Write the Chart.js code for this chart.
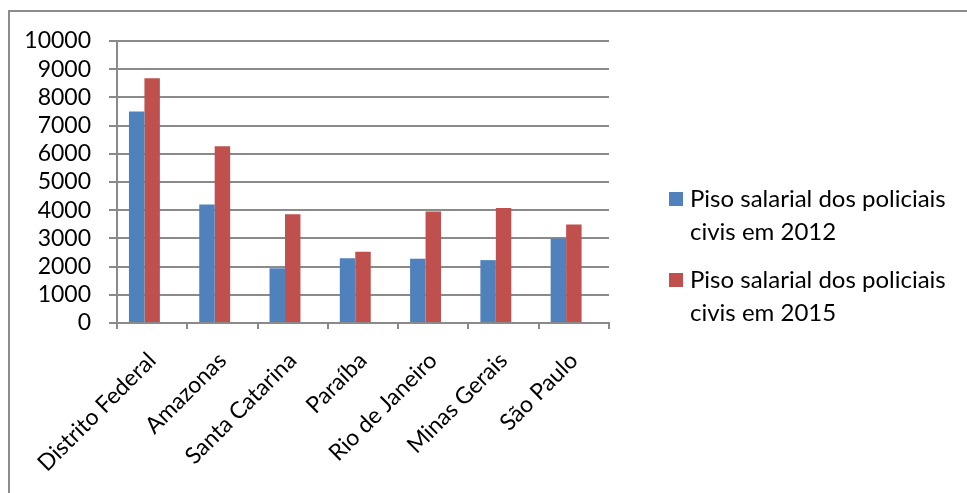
<!DOCTYPE html>
<html>
<head>
<meta charset="utf-8">
<script src="https://cdn.jsdelivr.net/npm/chart.js@4.4.1/dist/chart.umd.min.js"></script>
<style>
  html, body { margin: 0; padding: 0; background: #fff; overflow: hidden; }
  #wrap { position: relative; width: 967px; height: 493px; }
  #frame {
    position: absolute; left: 8px; top: 10px; width: 1100px; height: 700px;
    border-left: 2px solid #8c8c8c; border-top: 2px solid #8c8c8c;
  }
  canvas { position: absolute; left: 0; top: 0; }
</style>
</head>
<body>
<div id="wrap">
  <div id="frame"></div>
  <canvas id="chart" width="967" height="493"></canvas>
</div>
<script>
const states = ["Distrito Federal", "Amazonas", "Santa Catarina", "Paraíba", "Rio de Janeiro", "Minas Gerais", "São Paulo"];
const piso2012 = [7500, 4200, 1940, 2300, 2280, 2230, 3000];
const piso2015 = [8680, 6270, 3860, 2530, 3950, 4080, 3490];
const legend2012 = ["Piso salarial dos policiais", "civis em 2012"];
const legend2015 = ["Piso salarial dos policiais", "civis em 2015"];
// Excel reserves room for an empty third series, so the pairs sit left of centre
const emptySeries = [null, null, null, null, null, null, null];

const FONT = "Lato, 'Open Sans', sans-serif";
const FSIZE = 23;
const GRID = "#8a8a8a";

// legend with two-line labels, drawn to the right of the plot
const sideLegend = {
  id: "sideLegend",
  afterDraw(chart) {
    const ctx = chart.ctx;
    const items = [
      { color: "#4F81BD", lines: legend2012, y: 199 },
      { color: "#C0504D", lines: legend2015, y: 280 },
    ];
    ctx.save();
    ctx.font = "24px " + FONT;
    ctx.textBaseline = "middle";
    items.forEach((it) => {
      ctx.fillStyle = it.color;
      ctx.fillRect(669, it.y - 7, 14, 14);
      ctx.fillStyle = "#000";
      it.lines.forEach((t, i) => ctx.fillText(t, 690, it.y + i * 33));
    });
    ctx.restore();
  },
};

new Chart(document.getElementById("chart"), {
  type: "bar",
  data: {
    labels: states,
    datasets: [
      { label: legend2012.join(" "), data: piso2012, backgroundColor: "#4F81BD" },
      { label: legend2015.join(" "), data: piso2015, backgroundColor: "#C0504D" },
      { label: "", data: emptySeries, backgroundColor: "rgba(0,0,0,0)" },
    ],
  },
  options: {
    responsive: false,
    animation: false,
    categoryPercentage: 0.66,
    barPercentage: 1,
    layout: { padding: { left: 0, top: 41, right: 358, bottom: 0 } },
    plugins: { legend: { display: false }, tooltip: { enabled: false } },
    scales: {
      x: {
        grid: { drawOnChartArea: false, drawTicks: true, tickLength: 6, color: GRID, lineWidth: 2 },
        border: { color: GRID, width: 2 },
        ticks: {
          color: "#000",
          font: { family: FONT, size: FSIZE },
          minRotation: 45,
          maxRotation: 45,
          padding: 18,
          labelOffset: 0,
        },
        afterFit(scale) { scale.height = 493 - 323; },
      },
      y: {
        min: 0,
        max: 10000,
        ticks: {
          stepSize: 1000,
          autoSkip: false,
          color: "#000",
          font: { family: FONT, size: FSIZE },
          padding: 18,
          callback: (v) => String(v),
        },
        grid: { color: GRID, lineWidth: 2, tickLength: 8 },
        border: { color: GRID, width: 2 },
        afterFit(scale) { scale.width = 117; },
      },
    },
  },
  plugins: [sideLegend],
});
</script>
</body>
</html>
